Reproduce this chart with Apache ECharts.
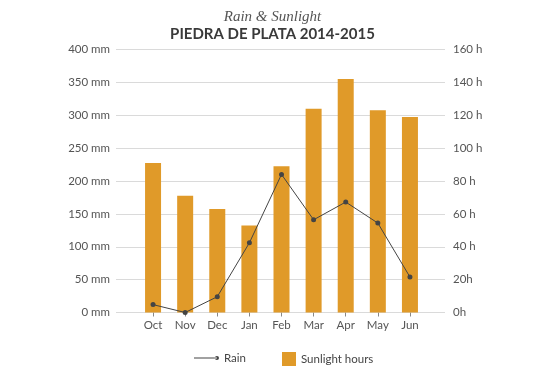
<!DOCTYPE html>
<html>
<head>
<meta charset="utf-8">
<script src="https://cdn.jsdelivr.net/npm/echarts@6/dist/echarts.min.js"></script>
<style>
  html, body { margin: 0; padding: 0; background: #fff; }
  #main { width: 545px; height: 376px; }
</style>
</head>
<body>
<div id="main"></div>
<script>
// data
var months = ['Oct', 'Nov', 'Dec', 'Jan', 'Feb', 'Mar', 'Apr', 'May', 'Jun'];
var rain = [12, 0, 24, 106, 210, 141, 168, 136, 54];          // mm, left axis
var sunlight = [91, 71, 63, 53, 89, 124, 142, 123, 119];      // hours, right axis
var hourLabels = ['0h', '20h', '40 h', '60 h', '80 h', '100 h', '120 h', '140 h', '160 h'];

var labelFont = 'Lato';
var gridColor = '#dadada';

var chart = echarts.init(document.getElementById('main'));

var option = {
    animation: false,
    title: [{
        text: 'Rain & Sunlight',
        left: 'center',
        top: 5,
        textStyle: { fontFamily: 'Liberation Serif', fontStyle: 'italic', fontWeight: 'normal', fontSize: 15, color: '#555' }
    }, {
        text: 'PIEDRA DE PLATA 2014-2015',
        left: 'center',
        top: 22,
        textStyle: { fontFamily: 'Lato', fontWeight: 'bold', fontSize: 15, color: '#3a3a3a' }
    }],
    legend: [{
        data: [{ name: 'Rain', icon: 'path://M0,1.6H22V2.4H0Z M20,2a2,2 0 1,0 4,0a2,2 0 1,0 -4,0Z' }],
        left: 189,
        top: 347,
        itemWidth: 25,
        itemHeight: 14,
        textStyle: { fontFamily: labelFont, fontSize: 11.5, color: '#444' }
    }, {
        data: [{ name: 'Sunlight hours', icon: 'rect' }],
        left: 277,
        top: 347,
        itemWidth: 14,
        itemHeight: 14,
        itemGap: 10,
        textStyle: { fontFamily: labelFont, fontSize: 11.5, color: '#444' }
    }],
    // grid 0 carries the visible value axes and gridlines, grid 1 the data
    grid: [
        { left: 116, right: 100, top: 49.5, bottom: 63.5 },
        { left: 137, right: 119, top: 49.5, bottom: 63.5 }
    ],
    xAxis: [{
        gridIndex: 0,
        type: 'category',
        data: months,
        show: false
    }, {
        gridIndex: 1,
        type: 'category',
        data: months,
        axisLine: { show: false },
        axisTick: { show: true, alignWithLabel: true, length: 4, lineStyle: { color: '#888' } },
        axisLabel: { fontFamily: labelFont, fontSize: 11.5, color: '#555', margin: 7 }
    }],
    yAxis: [{
        gridIndex: 0,
        type: 'value',
        min: 0, max: 400, interval: 50,
        axisLine: { show: false },
        axisTick: { show: false },
        axisLabel: { formatter: '{value} mm', fontFamily: labelFont, fontSize: 11.5, color: '#555', margin: 6 },
        splitLine: { lineStyle: { color: gridColor, width: 1 } }
    }, {
        gridIndex: 0,
        type: 'value',
        position: 'right',
        min: 0, max: 160, interval: 20,
        axisLine: { show: false },
        axisTick: { show: false },
        axisLabel: {
            formatter: function (v) { return hourLabels[v / 20]; },
            fontFamily: labelFont, fontSize: 11.5, color: '#555', margin: 8
        },
        splitLine: { show: false }
    }, {
        gridIndex: 1,
        type: 'value',
        min: 0, max: 400,
        show: false
    }, {
        gridIndex: 1,
        type: 'value',
        min: 0, max: 160,
        show: false
    }],
    series: [{
        name: 'Sunlight hours',
        type: 'bar',
        xAxisIndex: 1,
        yAxisIndex: 3,
        data: sunlight,
        barWidth: 16,
        itemStyle: { color: '#e09a29' }
    }, {
        name: 'Rain',
        type: 'line',
        xAxisIndex: 1,
        yAxisIndex: 2,
        data: rain,
        symbol: 'circle',
        symbolSize: 5,
        lineStyle: { color: '#444', width: 1 },
        itemStyle: { color: '#444' },
        z: 5
    }]
};

chart.setOption(option);
</script>
</body>
</html>
